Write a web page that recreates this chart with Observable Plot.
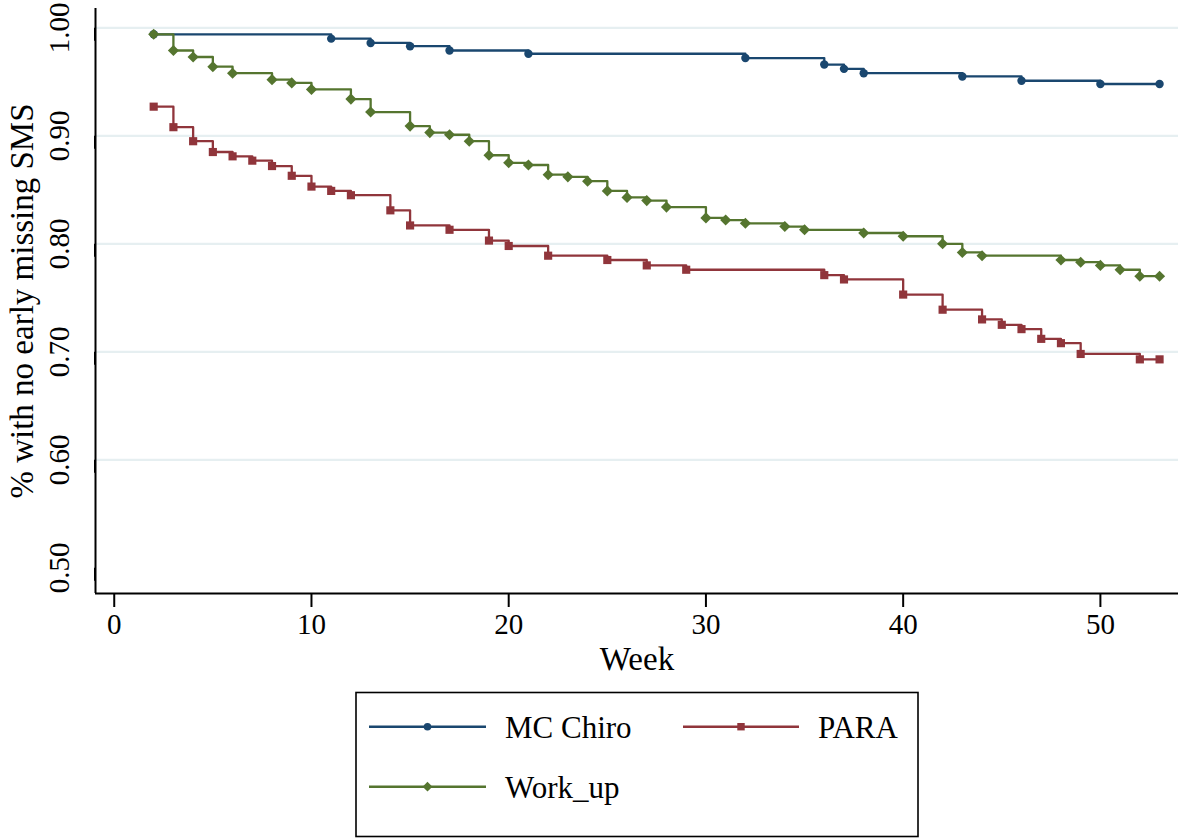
<!DOCTYPE html>
<html><head><meta charset="utf-8">
<script src="https://cdn.jsdelivr.net/npm/d3@7"></script>
<script src="https://cdn.jsdelivr.net/npm/@observablehq/plot@0.6"></script>
<style>
body{margin:0;background:#fff;}
#wrap{position:relative;width:1181px;height:840px;background:#fff;}
#chart{position:absolute;left:0;top:0;}
#legend{position:absolute;left:0;top:680px;}
</style></head><body><div id="wrap"><div id="chart"></div><svg id="legend" width="1181" height="160"></svg></div>
<script>
const FONT = '"Liberation Serif","Times New Roman",serif';

const seriesNames = ["MC Chiro", "PARA", "Work_up"];
const seriesColors = ["#1a476f", "#90353b", "#55752f"];
const seriesSymbols = ["circle", "square", "diamond2"];
const seriesRadius = [4.2, 4.6, 5.0];

const chiroWeeks = [2, 11, 13, 15, 17, 21, 32, 36, 37, 38, 43, 46, 50, 53];
const chiroValues = [0.994, 0.990, 0.986, 0.983, 0.979, 0.976, 0.972, 0.966, 0.962, 0.958, 0.955, 0.951, 0.948, 0.948];

const paraWeeks = [2, 3, 4, 5, 6, 7, 8, 9, 10, 11, 12, 14, 15, 17, 19, 20, 22, 25, 27, 29, 36, 37, 40, 42, 44, 45, 46, 47, 48, 49, 52, 53];
const paraValues = [0.927, 0.908, 0.895, 0.885, 0.881, 0.877, 0.872, 0.863, 0.853, 0.849, 0.845, 0.831, 0.817, 0.813, 0.803, 0.798, 0.789, 0.785, 0.780, 0.776, 0.771, 0.767, 0.753, 0.739, 0.730, 0.725, 0.721, 0.712, 0.708, 0.698, 0.693, 0.693];

const workWeeks = [2, 3, 4, 5, 6, 8, 9, 10, 12, 13, 15, 16, 17, 18, 19, 20, 21, 22, 23, 24, 25, 26, 27, 28, 30, 31, 32, 34, 35, 38, 40, 42, 43, 44, 48, 49, 50, 51, 52, 53];
const workValues = [0.994, 0.979, 0.973, 0.964, 0.958, 0.952, 0.949, 0.943, 0.934, 0.922, 0.909, 0.903, 0.901, 0.895, 0.882, 0.875, 0.873, 0.864, 0.862, 0.858, 0.849, 0.843, 0.840, 0.834, 0.824, 0.822, 0.819, 0.816, 0.813, 0.810, 0.807, 0.800, 0.792, 0.789, 0.785, 0.783, 0.780, 0.776, 0.770, 0.770];

const xTicks = [0, 10, 20, 30, 40, 50];
const yTicks = [0.50, 0.60, 0.70, 0.80, 0.90, 1.00];
const gridTicks = [0.60, 0.70, 0.80, 0.90, 1.00];
const xDomain = [-0.95, 53.96];
const yDomain = [0.4762, 1.0179];
const xTitle = "Week";
const yTitle = "% with no early missing SMS";

const build = (name, w, v) => w.map((week, i) => ({series: name, week, value: v[i]}));
const data = [
  ...build("MC Chiro", chiroWeeks, chiroValues),
  ...build("PARA", paraWeeks, paraValues),
  ...build("Work_up", workWeeks, workValues)
];

const dotMarks = seriesNames.map((s, i) =>
  Plot.dot(data.filter(d => d.series === s), {
    x: "week", y: "value", fill: seriesColors[i], stroke: "none",
    symbol: () => seriesSymbols[i], r: seriesRadius[i]
  })
);

const chart = Plot.plot({
  width: 1181,
  height: 680,
  marginLeft: 95,
  marginRight: 3,
  marginTop: 8,
  marginBottom: 87,
  style: {fontFamily: FONT, fontSize: "29px", background: "#fff", color: "#000", overflow: "visible"},
  x: {domain: xDomain},
  y: {domain: yDomain},
  symbol: {domain: seriesSymbols, range: seriesSymbols},
  marks: [
    Plot.gridY(gridTicks, {stroke: "#e6eff1", strokeOpacity: 1, strokeWidth: 2.2}),
    Plot.line(data, {x: "week", y: "value", z: "series",
      stroke: d => seriesColors[seriesNames.indexOf(d.series)],
      curve: "step-after", strokeWidth: 2.3}),
    ...dotMarks,
    Plot.ruleX([xDomain[0]], {stroke: "#000", strokeWidth: 2}),
    Plot.ruleY([yDomain[0]], {stroke: "#000", strokeWidth: 2}),
    Plot.axisX(xTicks, {tickSize: 14, tickPadding: 6, fontSize: 29, stroke: "#000", strokeWidth: 2, label: null, tickFormat: d => String(d)}),
    Plot.axisY(yTicks, {tickSize: 13, tickPadding: 14, fontSize: 29, stroke: "#000", strokeWidth: 2, label: null,
      tickFormat: d => d.toFixed(2), rotate: -90, textAnchor: "middle", lineAnchor: "bottom"}),
    Plot.text([xTitle], {frameAnchor: "bottom", dy: 76, lineAnchor: "bottom", fontSize: 33, fill: "#000"}),
    Plot.text([yTitle], {frameAnchor: "left", dx: -63, rotate: -90, textAnchor: "middle", lineAnchor: "bottom", fontSize: 33, fill: "#000"})
  ]
});
document.getElementById("chart").appendChild(chart);

// Legend
const lg = d3.select("#legend");
lg.append("rect").attr("x", 356).attr("y", 12.5).attr("width", 562).attr("height", 144)
  .attr("fill", "#fff").attr("stroke", "#000").attr("stroke-width", 1.6);
const legendItems = [
  {i: 0, x0: 369, x1: 486, y: 46.7, tx: 505},
  {i: 1, x0: 683, x1: 799, y: 46.7, tx: 818},
  {i: 2, x0: 369, x1: 486, y: 106.7, tx: 505}
];
const symMap = {circle: d3.symbolCircle, square: d3.symbolSquare, diamond2: d3.symbolDiamond2};
const legR = [3.8, 4.2, 4.4];
legendItems.forEach(it => {
  const c = seriesColors[it.i];
  lg.append("line").attr("x1", it.x0).attr("x2", it.x1).attr("y1", it.y).attr("y2", it.y)
    .attr("stroke", c).attr("stroke-width", 2.4);
  const r = legR[it.i];
  lg.append("path").attr("d", d3.symbol(symMap[seriesSymbols[it.i]], Math.PI * r * r)())
    .attr("transform", `translate(${(it.x0 + it.x1) / 2},${it.y})`).attr("fill", c);
  lg.append("text").attr("x", it.tx).attr("y", it.y + 11.5).attr("font-family", FONT)
    .attr("font-size", 31).attr("fill", "#000").text(seriesNames[it.i]);
});
</script></body></html>
